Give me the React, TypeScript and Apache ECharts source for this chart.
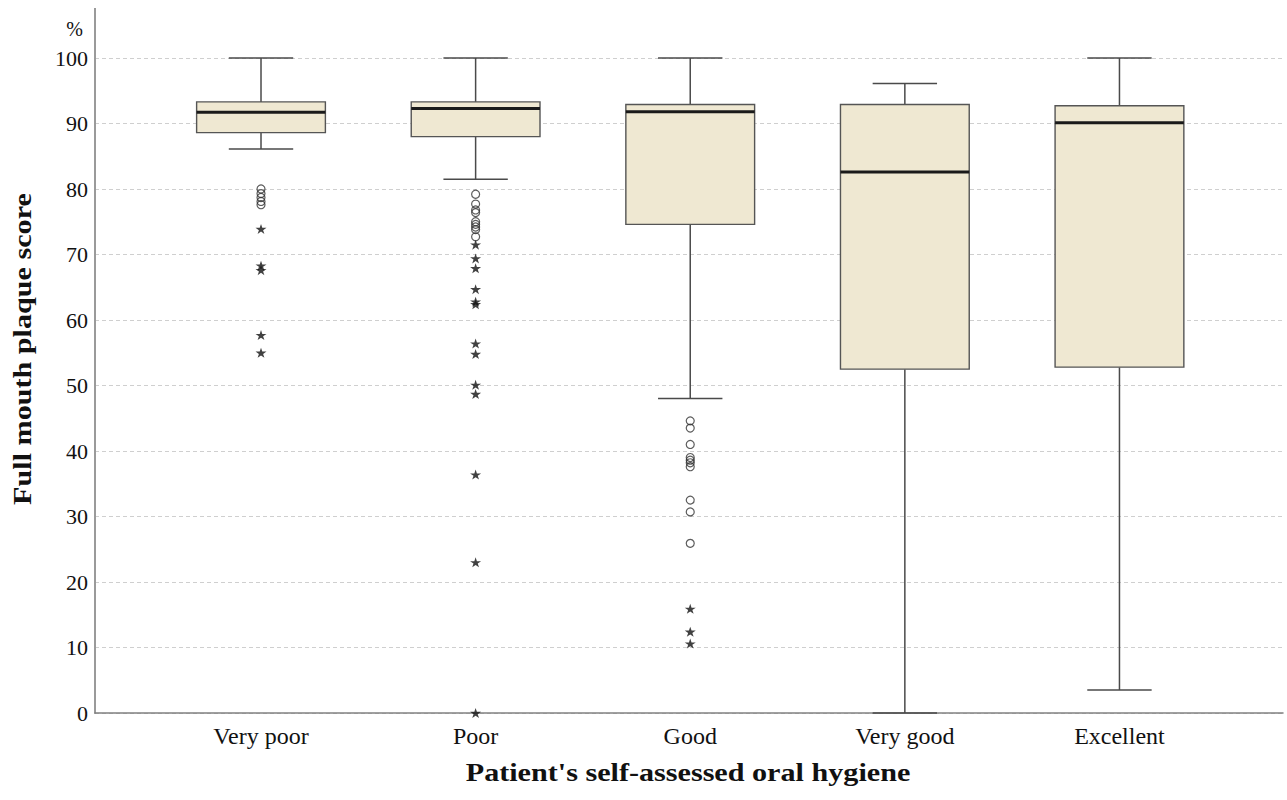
import { useEffect, useRef } from 'react';
import * as echarts from 'echarts';

const categories = ['Very poor', 'Poor', 'Good', 'Very good', 'Excellent'];

// [lower whisker, Q1, median, Q3, upper whisker] per group (%)
const boxStats: number[][] = [
  [86.1, 88.6, 91.7, 93.3, 100],
  [81.5, 88.0, 92.3, 93.3, 100],
  [48.0, 74.6, 91.8, 92.9, 100],
  [0, 52.5, 82.6, 92.9, 96.1],
  [3.5, 52.8, 90.1, 92.7, 100],
];

// outliers (circles) per group
const mildOutliers: number[][] = [
  [80.0, 79.3, 78.7, 78.1, 77.6],
  [79.2, 77.7, 76.8, 76.4, 75.0, 74.6, 74.2, 73.8, 72.7],
  [44.6, 43.5, 41.0, 39.0, 38.6, 38.2, 37.6, 32.5, 30.7, 25.9],
  [],
  [],
];

// extreme values (stars) per group
const extremeOutliers: number[][] = [
  [73.9, 68.3, 67.6, 57.7, 55.0],
  [71.5, 69.4, 67.9, 64.7, 62.8, 62.4, 56.4, 54.8, 50.1, 48.7, 36.4, 23.0, 0],
  [15.9, 12.4, 10.6],
  [],
  [],
];

const yTicks = { min: 0, max: 100, interval: 10 };

const SERIF = "'Liberation Serif', 'Times New Roman', Times, serif";
const STAR =
  'path://M50,0 L61.2,34.5 L97.6,34.5 L68.2,55.9 L79.4,90.5 L50,69.1 L20.6,90.5 L31.8,55.9 L2.4,34.5 L38.8,34.5 Z';
const BOX_WIDTH = 0.6;
const CAP_WIDTH = 0.3;

export default function App() {
  const ref = useRef<HTMLDivElement>(null);

  useEffect(() => {
    if (!ref.current) return;
    const chart = echarts.init(ref.current, undefined, { renderer: 'svg' });

    const boxData = boxStats.map((s, i) => [i, ...s]);
    const circleData: number[][] = [];
    mildOutliers.forEach((arr, i) => arr.forEach((v) => circleData.push([i, v])));
    const starData: number[][] = [];
    extremeOutliers.forEach((arr, i) => arr.forEach((v) => starData.push([i, v])));

    chart.setOption({
      animation: false,
      backgroundColor: '#ffffff',
      grid: { left: 95, right: 4, top: 58, bottom: 87 },
      xAxis: {
        type: 'value',
        min: -0.7735,
        max: 4.762,
        splitLine: { show: false },
        axisTick: { show: false },
        axisLine: { show: true, onZero: false, lineStyle: { color: '#808080', width: 1.5 } },
        axisLabel: {
          customValues: [0, 1, 2, 3, 4],
          formatter: (v: number) => categories[Math.round(v)] ?? '',
          fontFamily: SERIF,
          fontSize: 24,
          color: '#111',
          margin: 11,
        },
      },
      yAxis: {
        type: 'value',
        min: yTicks.min,
        max: yTicks.max,
        interval: yTicks.interval,
        name: '%',
        nameLocation: 'end',
        nameGap: 29,
        nameTextStyle: {
          fontFamily: SERIF,
          fontSize: 20,
          color: '#111',
          align: 'right',
          verticalAlign: 'middle',
          padding: [0, 12, 0, 0],
        },
        axisLine: { show: true, onZero: false, lineStyle: { color: '#9a9a9a', width: 2 } },
        axisTick: { show: false },
        axisLabel: {
          fontFamily: SERIF,
          fontSize: 22,
          color: '#111',
          margin: 7,
        },
        splitLine: {
          show: true,
          lineStyle: { color: '#cfcfcf', type: [4, 3], width: 1 },
        },
      },
      series: [
        {
          type: 'custom',
          clip: false,
          encode: { x: 0, y: [1, 2, 3, 4, 5] },
          data: boxData,
          z: 2,
          renderItem: (_params: any, api: any) => {
            const x = api.value(0);
            const lo = api.coord([x, api.value(1)]);
            const q1 = api.coord([x, api.value(2)]);
            const med = api.coord([x, api.value(3)]);
            const q3 = api.coord([x, api.value(4)]);
            const hi = api.coord([x, api.value(5)]);
            const w = api.size([BOX_WIDTH, 0])[0];
            const cw = api.size([CAP_WIDTH, 0])[0];
            const cx = lo[0];
            const whisker = { stroke: '#4a4a4a', lineWidth: 1.5 };
            return {
              type: 'group',
              children: [
                { type: 'line', shape: { x1: cx, y1: hi[1], x2: cx, y2: q3[1] }, style: whisker },
                { type: 'line', shape: { x1: cx, y1: q1[1], x2: cx, y2: lo[1] }, style: whisker },
                { type: 'line', shape: { x1: cx - cw / 2, y1: hi[1], x2: cx + cw / 2, y2: hi[1] }, style: whisker },
                { type: 'line', shape: { x1: cx - cw / 2, y1: lo[1], x2: cx + cw / 2, y2: lo[1] }, style: whisker },
                {
                  type: 'rect',
                  shape: { x: cx - w / 2, y: q3[1], width: w, height: q1[1] - q3[1] },
                  style: { fill: '#efe8d2', stroke: '#555555', lineWidth: 1.4 },
                },
                {
                  type: 'line',
                  shape: { x1: cx - w / 2, y1: med[1], x2: cx + w / 2, y2: med[1] },
                  style: { stroke: '#1a1a1a', lineWidth: 3 },
                },
              ],
            };
          },
        },
        {
          type: 'scatter',
          data: circleData,
          symbol: 'circle',
          symbolSize: 8,
          z: 3,
          itemStyle: { color: 'rgba(0,0,0,0)', borderColor: '#333', borderWidth: 1.2 },
        },
        {
          type: 'scatter',
          data: starData,
          symbol: STAR,
          symbolSize: [11, 10],
          z: 3,
          clip: false,
          itemStyle: { color: '#111' },
        },
      ],
      graphic: [
        {
          // vertical axis line continues above the top tick
          type: 'line',
          shape: { x1: 95, y1: 8, x2: 95, y2: 58 },
          style: { stroke: '#9a9a9a', lineWidth: 2 },
        },
        {
          type: 'text',
          x: 688,
          y: 772,
          scaleX: 1.16,
          style: {
            text: "Patient's self-assessed oral hygiene",
            font: `bold 26px ${SERIF}`,
            fill: '#111',
            align: 'center',
            verticalAlign: 'middle',
          },
        },
        {
          type: 'text',
          x: 22,
          y: 349,
          rotation: Math.PI / 2,
          scaleX: 1.16,
          style: {
            text: 'Full mouth plaque score',
            font: `bold 26px ${SERIF}`,
            fill: '#111',
            align: 'center',
            verticalAlign: 'middle',
          },
        },
      ],
    });

    return () => chart.dispose();
  }, []);

  return (
    <div
      ref={ref}
      style={{ position: 'fixed', left: 0, top: 0, width: 1287, height: 800 }}
    />
  );
}
